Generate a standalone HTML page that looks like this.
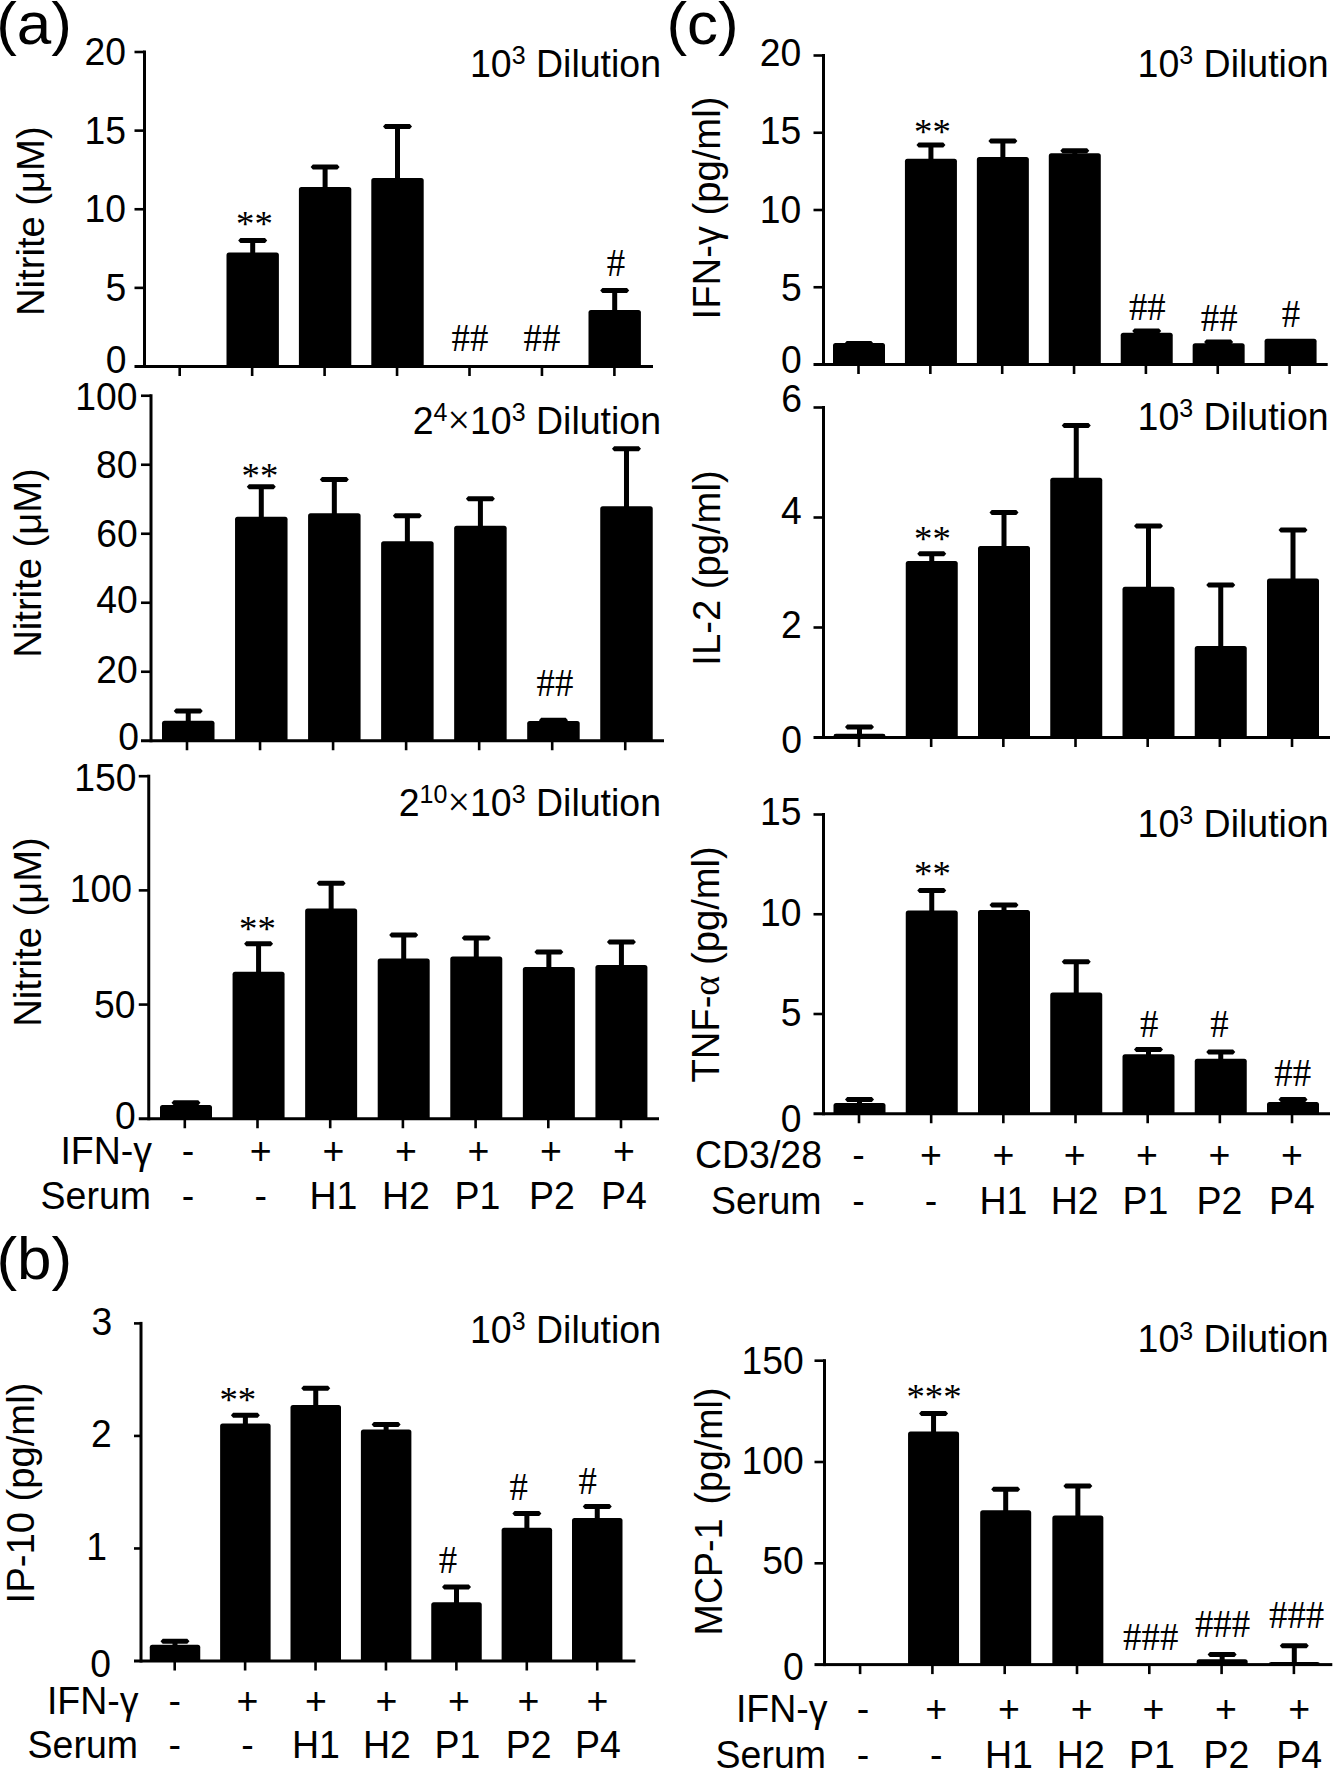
<!DOCTYPE html>
<html><head><meta charset="utf-8"><title>Figure</title>
<style>
html,body{margin:0;padding:0;background:#fff;}
body{width:1337px;height:1769px;overflow:hidden;}
svg{display:block;}
.s{font-family:"Liberation Sans", sans-serif;fill:#000;}
.r{font-family:"Liberation Serif", serif;fill:#000;}
rect,polygon{fill:#000;}
</style></head><body>
<svg width="1337" height="1769" viewBox="0 0 1337 1769">
<rect x="250.2" y="240.5" width="5" height="13"/>
<polygon points="238.2,240.5 240.4,238 265,238 267.2,240.5 265,243 240.4,243"/>
<rect x="226.5" y="252.5" width="52.4" height="115" rx="2.5"/>
<rect x="322.6" y="167" width="5" height="21"/>
<polygon points="310.6,167 312.8,164.5 337.4,164.5 339.6,167 337.4,169.5 312.8,169.5"/>
<rect x="298.9" y="187" width="52.4" height="180.5" rx="2.5"/>
<rect x="395" y="126.6" width="5" height="52.4"/>
<polygon points="383,126.6 385.2,124.1 409.8,124.1 412,126.6 409.8,129.1 385.2,129.1"/>
<rect x="371.3" y="178" width="52.4" height="189.5" rx="2.5"/>
<rect x="612.2" y="290.5" width="5" height="20.5"/>
<polygon points="600.2,290.5 602.4,288 627,288 629.2,290.5 627,293 602.4,293"/>
<rect x="588.5" y="310" width="52.4" height="57.5" rx="2.5"/>
<rect x="143" y="50.5" width="3" height="317.5"/>
<rect x="134.5" y="365" width="518.5" height="3"/>
<rect x="134.5" y="286.57" width="10" height="2.6"/>
<rect x="134.5" y="207.95" width="10" height="2.6"/>
<rect x="134.5" y="129.32" width="10" height="2.6"/>
<rect x="134.5" y="50.7" width="10" height="2.6"/>
<text class="s" transform="translate(126.1 65.1) scale(1 1.04)" text-anchor="end" font-size="37.3">20</text>
<text class="s" transform="translate(126.1 144.2) scale(1 1.04)" text-anchor="end" font-size="37.3">15</text>
<text class="s" transform="translate(126.1 222) scale(1 1.04)" text-anchor="end" font-size="37.3">10</text>
<text class="s" transform="translate(126.3 301.1) scale(1 1.04)" text-anchor="end" font-size="37.3">5</text>
<text class="s" transform="translate(126.5 373) scale(1 1.04)" text-anchor="end" font-size="37.3">0</text>
<rect x="178.4" y="366.5" width="2.6" height="9.5"/>
<rect x="250.85" y="366.5" width="2.6" height="9.5"/>
<rect x="323.3" y="366.5" width="2.6" height="9.5"/>
<rect x="395.75" y="366.5" width="2.6" height="9.5"/>
<rect x="468.2" y="366.5" width="2.6" height="9.5"/>
<rect x="540.65" y="366.5" width="2.6" height="9.5"/>
<rect x="613.1" y="366.5" width="2.6" height="9.5"/>
<text class="s" font-size="38.2" text-anchor="middle" transform="translate(43.6 221.2) rotate(-90) scale(1 1.02)">Nitrite (μM)</text>
<text class="s" transform="translate(661 77) scale(1 1.03)" text-anchor="end" font-size="37.5">10<tspan font-size="25" dy="-12.4">3</tspan><tspan dy="12.4"> Dilution</tspan></text>
<text class="r" transform="translate(254.5 236) scale(1 1)" text-anchor="middle" font-size="36.8">**</text>
<text class="r" transform="translate(470 351) scale(1 1.08)" text-anchor="middle" font-size="36.8">##</text>
<text class="r" transform="translate(542 351) scale(1 1.08)" text-anchor="middle" font-size="36.8">##</text>
<text class="r" transform="translate(616 276) scale(1 1.08)" text-anchor="middle" font-size="36.8">#</text>
<rect x="185.75" y="711" width="5" height="10.8"/>
<polygon points="173.75,711 175.95,708.5 200.55,708.5 202.75,711 200.55,713.5 175.95,713.5"/>
<rect x="162" y="720.8" width="52.5" height="20.95" rx="2.5"/>
<rect x="258.79" y="486.75" width="5" height="31.05"/>
<polygon points="246.79,486.75 248.99,484.25 273.59,484.25 275.79,486.75 273.59,489.25 248.99,489.25"/>
<rect x="235.04" y="516.8" width="52.5" height="224.95" rx="2.5"/>
<rect x="331.83" y="479.5" width="5" height="34.8"/>
<polygon points="319.83,479.5 322.03,477 346.63,477 348.83,479.5 346.63,482 322.03,482"/>
<rect x="308.08" y="513.3" width="52.5" height="228.45" rx="2.5"/>
<rect x="404.87" y="515.75" width="5" height="26.55"/>
<polygon points="392.87,515.75 395.07,513.25 419.67,513.25 421.87,515.75 419.67,518.25 395.07,518.25"/>
<rect x="381.12" y="541.3" width="52.5" height="200.45" rx="2.5"/>
<rect x="477.91" y="498.75" width="5" height="28.05"/>
<polygon points="465.91,498.75 468.11,496.25 492.71,496.25 494.91,498.75 492.71,501.25 468.11,501.25"/>
<rect x="454.16" y="525.8" width="52.5" height="215.95" rx="2.5"/>
<rect x="550.95" y="720.2" width="5" height="1.8"/>
<polygon points="538.95,720.2 541.15,717.7 565.75,717.7 567.95,720.2 565.75,722.7 541.15,722.7"/>
<rect x="527.2" y="721" width="52.5" height="20.75" rx="2.5"/>
<rect x="623.99" y="448.75" width="5" height="58.55"/>
<polygon points="611.99,448.75 614.19,446.25 638.79,446.25 640.99,448.75 638.79,451.25 614.19,451.25"/>
<rect x="600.24" y="506.3" width="52.5" height="235.45" rx="2.5"/>
<rect x="149.5" y="394.25" width="3" height="348"/>
<rect x="141" y="739.25" width="523" height="3"/>
<rect x="141" y="670.45" width="10" height="2.6"/>
<rect x="141" y="601.45" width="10" height="2.6"/>
<rect x="141" y="532.45" width="10" height="2.6"/>
<rect x="141" y="463.45" width="10" height="2.6"/>
<rect x="141" y="394.45" width="10" height="2.6"/>
<text class="s" transform="translate(137.5 409.6) scale(1 1.04)" text-anchor="end" font-size="37.3">100</text>
<text class="s" transform="translate(137.5 477.9) scale(1 1.04)" text-anchor="end" font-size="37.3">80</text>
<text class="s" transform="translate(137.8 547.4) scale(1 1.04)" text-anchor="end" font-size="37.3">60</text>
<text class="s" transform="translate(137.8 612.6) scale(1 1.04)" text-anchor="end" font-size="37.3">40</text>
<text class="s" transform="translate(137.8 682.6) scale(1 1.04)" text-anchor="end" font-size="37.3">20</text>
<text class="s" transform="translate(139 750.4) scale(1 1.04)" text-anchor="end" font-size="37.3">0</text>
<rect x="185.7" y="740.75" width="2.6" height="9.5"/>
<rect x="258.74" y="740.75" width="2.6" height="9.5"/>
<rect x="331.78" y="740.75" width="2.6" height="9.5"/>
<rect x="404.82" y="740.75" width="2.6" height="9.5"/>
<rect x="477.86" y="740.75" width="2.6" height="9.5"/>
<rect x="550.9" y="740.75" width="2.6" height="9.5"/>
<rect x="623.94" y="740.75" width="2.6" height="9.5"/>
<text class="s" font-size="38.2" text-anchor="middle" transform="translate(40.7 563) rotate(-90) scale(1 1.02)">Nitrite (μM)</text>
<text class="s" transform="translate(661 433.75) scale(1 1.03)" text-anchor="end" font-size="37.5">2<tspan font-size="25" dy="-12.4">4</tspan><tspan dy="12.4" font-family='"Liberation Serif", serif' font-size="40">×</tspan>10<tspan font-size="25" dy="-12.4">3</tspan><tspan dy="12.4"> Dilution</tspan></text>
<text class="r" transform="translate(260 487.5) scale(1 1)" text-anchor="middle" font-size="36.8">**</text>
<text class="r" transform="translate(555 696) scale(1 1.08)" text-anchor="middle" font-size="36.8">##</text>
<rect x="183.5" y="1102.8" width="5" height="3.2"/>
<polygon points="171.5,1102.8 173.7,1100.3 198.3,1100.3 200.5,1102.8 198.3,1105.3 173.7,1105.3"/>
<rect x="160" y="1105" width="52" height="14.75" rx="2.5"/>
<rect x="256.07" y="943.75" width="5" height="28.95"/>
<polygon points="244.07,943.75 246.27,941.25 270.87,941.25 273.07,943.75 270.87,946.25 246.27,946.25"/>
<rect x="232.57" y="971.7" width="52" height="148.05" rx="2.5"/>
<rect x="328.64" y="883.2" width="5" height="26.4"/>
<polygon points="316.64,883.2 318.84,880.7 343.44,880.7 345.64,883.2 343.44,885.7 318.84,885.7"/>
<rect x="305.14" y="908.6" width="52" height="211.15" rx="2.5"/>
<rect x="401.21" y="935" width="5" height="24.5"/>
<polygon points="389.21,935 391.41,932.5 416.01,932.5 418.21,935 416.01,937.5 391.41,937.5"/>
<rect x="377.71" y="958.5" width="52" height="161.25" rx="2.5"/>
<rect x="473.78" y="938" width="5" height="19.6"/>
<polygon points="461.78,938 463.98,935.5 488.58,935.5 490.78,938 488.58,940.5 463.98,940.5"/>
<rect x="450.28" y="956.6" width="52" height="163.15" rx="2.5"/>
<rect x="546.35" y="952" width="5" height="16"/>
<polygon points="534.35,952 536.55,949.5 561.15,949.5 563.35,952 561.15,954.5 536.55,954.5"/>
<rect x="522.85" y="967" width="52" height="152.75" rx="2.5"/>
<rect x="618.92" y="942" width="5" height="24"/>
<polygon points="606.92,942 609.12,939.5 633.72,939.5 635.92,942 633.72,944.5 609.12,944.5"/>
<rect x="595.42" y="965" width="52" height="154.75" rx="2.5"/>
<rect x="147.25" y="774.7" width="3" height="345.55"/>
<rect x="138.75" y="1117.25" width="520.25" height="3"/>
<rect x="138.75" y="1003.27" width="10" height="2.6"/>
<rect x="138.75" y="889.08" width="10" height="2.6"/>
<rect x="138.75" y="774.9" width="10" height="2.6"/>
<text class="s" transform="translate(136.6 790.9) scale(1 1.04)" text-anchor="end" font-size="37.3">150</text>
<text class="s" transform="translate(132 902) scale(1 1.04)" text-anchor="end" font-size="37.3">100</text>
<text class="s" transform="translate(135.5 1018) scale(1 1.04)" text-anchor="end" font-size="37.3">50</text>
<text class="s" transform="translate(135.7 1129.3) scale(1 1.04)" text-anchor="end" font-size="37.3">0</text>
<rect x="183.5" y="1118.75" width="2.6" height="9.5"/>
<rect x="256.2" y="1118.75" width="2.6" height="9.5"/>
<rect x="328.9" y="1118.75" width="2.6" height="9.5"/>
<rect x="401.6" y="1118.75" width="2.6" height="9.5"/>
<rect x="474.3" y="1118.75" width="2.6" height="9.5"/>
<rect x="547" y="1118.75" width="2.6" height="9.5"/>
<rect x="619.7" y="1118.75" width="2.6" height="9.5"/>
<text class="s" font-size="38.2" text-anchor="middle" transform="translate(40.7 932) rotate(-90) scale(1 1.02)">Nitrite (μM)</text>
<text class="s" transform="translate(661 816) scale(1 1.03)" text-anchor="end" font-size="37.5">2<tspan font-size="25" dy="-12.4">10</tspan><tspan dy="12.4" font-family='"Liberation Serif", serif' font-size="40">×</tspan>10<tspan font-size="25" dy="-12.4">3</tspan><tspan dy="12.4"> Dilution</tspan></text>
<text class="r" transform="translate(257.5 941) scale(1 1)" text-anchor="middle" font-size="36.8">**</text>
<text class="s" transform="translate(152 1163.75) scale(1 1.03)" text-anchor="end" font-size="37.5">IFN-γ</text>
<text class="s" transform="translate(188 1163.75) scale(1 1.03)" text-anchor="middle" font-size="37.5">-</text>
<text class="s" transform="translate(260.75 1163.75) scale(1 1.03)" text-anchor="middle" font-size="37.5">+</text>
<text class="s" transform="translate(333.5 1163.75) scale(1 1.03)" text-anchor="middle" font-size="37.5">+</text>
<text class="s" transform="translate(406 1163.75) scale(1 1.03)" text-anchor="middle" font-size="37.5">+</text>
<text class="s" transform="translate(478.5 1163.75) scale(1 1.03)" text-anchor="middle" font-size="37.5">+</text>
<text class="s" transform="translate(551 1163.75) scale(1 1.03)" text-anchor="middle" font-size="37.5">+</text>
<text class="s" transform="translate(624 1163.75) scale(1 1.03)" text-anchor="middle" font-size="37.5">+</text>
<text class="s" transform="translate(151 1208.75) scale(1 1.03)" text-anchor="end" font-size="37.5">Serum</text>
<text class="s" transform="translate(188 1208.75) scale(1 1.03)" text-anchor="middle" font-size="37.5">-</text>
<text class="s" transform="translate(260.75 1208.75) scale(1 1.03)" text-anchor="middle" font-size="37.5">-</text>
<text class="s" transform="translate(333.5 1208.75) scale(1 1.03)" text-anchor="middle" font-size="37.5">H1</text>
<text class="s" transform="translate(406 1208.75) scale(1 1.03)" text-anchor="middle" font-size="37.5">H2</text>
<text class="s" transform="translate(477.5 1208.75) scale(1 1.03)" text-anchor="middle" font-size="37.5">P1</text>
<text class="s" transform="translate(552 1208.75) scale(1 1.03)" text-anchor="middle" font-size="37.5">P2</text>
<text class="s" transform="translate(624 1208.75) scale(1 1.03)" text-anchor="middle" font-size="37.5">P4</text>
<rect x="172.5" y="1641.2" width="5" height="4.5"/>
<polygon points="160.5,1641.2 162.7,1638.7 187.3,1638.7 189.5,1641.2 187.3,1643.7 162.7,1643.7"/>
<rect x="149.75" y="1644.7" width="50.5" height="17.3" rx="2.5"/>
<rect x="242.88" y="1415.2" width="5" height="9.2"/>
<polygon points="230.88,1415.2 233.07,1412.7 257.68,1412.7 259.88,1415.2 257.68,1417.7 233.07,1417.7"/>
<rect x="220.12" y="1423.4" width="50.5" height="238.6" rx="2.5"/>
<rect x="313.25" y="1388.2" width="5" height="17.7"/>
<polygon points="301.25,1388.2 303.45,1385.7 328.05,1385.7 330.25,1388.2 328.05,1390.7 303.45,1390.7"/>
<rect x="290.5" y="1404.9" width="50.5" height="257.1" rx="2.5"/>
<rect x="383.62" y="1424.6" width="5" height="6"/>
<polygon points="371.62,1424.6 373.82,1422.1 398.43,1422.1 400.62,1424.6 398.43,1427.1 373.82,1427.1"/>
<rect x="360.88" y="1429.6" width="50.5" height="232.4" rx="2.5"/>
<rect x="454" y="1587" width="5" height="16.3"/>
<polygon points="442,1587 444.2,1584.5 468.8,1584.5 471,1587 468.8,1589.5 444.2,1589.5"/>
<rect x="431.25" y="1602.3" width="50.5" height="59.7" rx="2.5"/>
<rect x="524.38" y="1513.4" width="5" height="15.4"/>
<polygon points="512.38,1513.4 514.58,1510.9 539.17,1510.9 541.38,1513.4 539.17,1515.9 514.58,1515.9"/>
<rect x="501.62" y="1527.8" width="50.5" height="134.2" rx="2.5"/>
<rect x="594.75" y="1506.5" width="5" height="12.5"/>
<polygon points="582.75,1506.5 584.95,1504 609.55,1504 611.75,1506.5 609.55,1509 584.95,1509"/>
<rect x="572" y="1518" width="50.5" height="144" rx="2.5"/>
<rect x="139.5" y="1321.9" width="3" height="340.6"/>
<rect x="134" y="1659.5" width="501.4" height="3"/>
<rect x="134" y="1547.17" width="7" height="2.6"/>
<rect x="134" y="1434.63" width="7" height="2.6"/>
<rect x="134" y="1322.1" width="7" height="2.6"/>
<text class="s" transform="translate(112.2 1334.8) scale(1 1.04)" text-anchor="end" font-size="37.3">3</text>
<text class="s" transform="translate(111.8 1446.7) scale(1 1.04)" text-anchor="end" font-size="37.3">2</text>
<text class="s" transform="translate(107 1560.2) scale(1 1.04)" text-anchor="end" font-size="37.3">1</text>
<text class="s" transform="translate(111 1676.5) scale(1 1.04)" text-anchor="end" font-size="37.3">0</text>
<rect x="173.4" y="1661" width="2.6" height="9.5"/>
<rect x="243.82" y="1661" width="2.6" height="9.5"/>
<rect x="314.24" y="1661" width="2.6" height="9.5"/>
<rect x="384.66" y="1661" width="2.6" height="9.5"/>
<rect x="455.08" y="1661" width="2.6" height="9.5"/>
<rect x="525.5" y="1661" width="2.6" height="9.5"/>
<rect x="595.92" y="1661" width="2.6" height="9.5"/>
<text class="s" font-size="38.2" text-anchor="middle" transform="translate(33.6 1493) rotate(-90) scale(1 1.02)">IP-10 (pg/ml)</text>
<text class="s" transform="translate(661 1343) scale(1 1.03)" text-anchor="end" font-size="37.5">10<tspan font-size="25" dy="-12.4">3</tspan><tspan dy="12.4"> Dilution</tspan></text>
<text class="r" transform="translate(237.8 1411.6) scale(1 1)" text-anchor="middle" font-size="36.8">**</text>
<text class="r" transform="translate(448 1572.5) scale(1 1.08)" text-anchor="middle" font-size="36.8">#</text>
<text class="r" transform="translate(518.7 1500) scale(1 1.08)" text-anchor="middle" font-size="36.8">#</text>
<text class="r" transform="translate(587.8 1494) scale(1 1.08)" text-anchor="middle" font-size="36.8">#</text>
<text class="s" transform="translate(138.5 1714) scale(1 1.03)" text-anchor="end" font-size="37.5">IFN-γ</text>
<text class="s" transform="translate(174.7 1714) scale(1 1.03)" text-anchor="middle" font-size="37.5">-</text>
<text class="s" transform="translate(247.4 1714) scale(1 1.03)" text-anchor="middle" font-size="37.5">+</text>
<text class="s" transform="translate(316 1714) scale(1 1.03)" text-anchor="middle" font-size="37.5">+</text>
<text class="s" transform="translate(386.5 1714) scale(1 1.03)" text-anchor="middle" font-size="37.5">+</text>
<text class="s" transform="translate(459 1714) scale(1 1.03)" text-anchor="middle" font-size="37.5">+</text>
<text class="s" transform="translate(528.4 1714) scale(1 1.03)" text-anchor="middle" font-size="37.5">+</text>
<text class="s" transform="translate(597.5 1714) scale(1 1.03)" text-anchor="middle" font-size="37.5">+</text>
<text class="s" transform="translate(138 1757.7) scale(1 1.03)" text-anchor="end" font-size="37.5">Serum</text>
<text class="s" transform="translate(174.7 1757.7) scale(1 1.03)" text-anchor="middle" font-size="37.5">-</text>
<text class="s" transform="translate(247.4 1757.7) scale(1 1.03)" text-anchor="middle" font-size="37.5">-</text>
<text class="s" transform="translate(316 1757.7) scale(1 1.03)" text-anchor="middle" font-size="37.5">H1</text>
<text class="s" transform="translate(387 1757.7) scale(1 1.03)" text-anchor="middle" font-size="37.5">H2</text>
<text class="s" transform="translate(457.4 1757.7) scale(1 1.03)" text-anchor="middle" font-size="37.5">P1</text>
<text class="s" transform="translate(528.6 1757.7) scale(1 1.03)" text-anchor="middle" font-size="37.5">P2</text>
<text class="s" transform="translate(598 1757.7) scale(1 1.03)" text-anchor="middle" font-size="37.5">P4</text>
<rect x="856.5" y="343.5" width="5" height="0.5"/>
<polygon points="844.5,343.5 846.7,341 871.3,341 873.5,343.5 871.3,346 846.7,346"/>
<rect x="833" y="343" width="52" height="22.5" rx="2.5"/>
<rect x="928.43" y="145" width="5" height="14.75"/>
<polygon points="916.43,145 918.63,142.5 943.23,142.5 945.43,145 943.23,147.5 918.63,147.5"/>
<rect x="904.93" y="158.75" width="52" height="206.75" rx="2.5"/>
<rect x="1000.36" y="141" width="5" height="17"/>
<polygon points="988.36,141 990.56,138.5 1015.16,138.5 1017.36,141 1015.16,143.5 990.56,143.5"/>
<rect x="976.86" y="157" width="52" height="208.5" rx="2.5"/>
<rect x="1072.29" y="150.7" width="5" height="3.5"/>
<polygon points="1060.29,150.7 1062.49,148.2 1087.09,148.2 1089.29,150.7 1087.09,153.2 1062.49,153.2"/>
<rect x="1048.79" y="153.2" width="52" height="212.3" rx="2.5"/>
<rect x="1144.22" y="331" width="5" height="2.7"/>
<polygon points="1132.22,331 1134.42,328.5 1159.02,328.5 1161.22,331 1159.02,333.5 1134.42,333.5"/>
<rect x="1120.72" y="332.7" width="52" height="32.8" rx="2.5"/>
<rect x="1216.15" y="342" width="5" height="2.3"/>
<polygon points="1204.15,342 1206.35,339.5 1230.95,339.5 1233.15,342 1230.95,344.5 1206.35,344.5"/>
<rect x="1192.65" y="343.3" width="52" height="22.2" rx="2.5"/>
<rect x="1264.58" y="338.8" width="52" height="26.7" rx="2.5"/>
<rect x="822" y="54" width="3" height="312"/>
<rect x="813.5" y="363" width="514.2" height="3"/>
<rect x="813.5" y="285.95" width="10" height="2.6"/>
<rect x="813.5" y="208.7" width="10" height="2.6"/>
<rect x="813.5" y="131.45" width="10" height="2.6"/>
<rect x="813.5" y="54.2" width="10" height="2.6"/>
<text class="s" transform="translate(801.3 65.5) scale(1 1.04)" text-anchor="end" font-size="37.3">20</text>
<text class="s" transform="translate(801.3 144.2) scale(1 1.04)" text-anchor="end" font-size="37.3">15</text>
<text class="s" transform="translate(801.3 222.7) scale(1 1.04)" text-anchor="end" font-size="37.3">10</text>
<text class="s" transform="translate(801.7 301.1) scale(1 1.04)" text-anchor="end" font-size="37.3">5</text>
<text class="s" transform="translate(801.7 373.3) scale(1 1.04)" text-anchor="end" font-size="37.3">0</text>
<rect x="857.2" y="364.5" width="2.6" height="9.5"/>
<rect x="929.05" y="364.5" width="2.6" height="9.5"/>
<rect x="1000.9" y="364.5" width="2.6" height="9.5"/>
<rect x="1072.75" y="364.5" width="2.6" height="9.5"/>
<rect x="1144.6" y="364.5" width="2.6" height="9.5"/>
<rect x="1216.45" y="364.5" width="2.6" height="9.5"/>
<rect x="1288.3" y="364.5" width="2.6" height="9.5"/>
<text class="s" font-size="38.2" text-anchor="middle" transform="translate(719.75 208) rotate(-90) scale(1 1.02)">IFN-γ (pg/ml)</text>
<text class="s" transform="translate(1328.6 77.2) scale(1 1.03)" text-anchor="end" font-size="37.5">10<tspan font-size="25" dy="-12.4">3</tspan><tspan dy="12.4"> Dilution</tspan></text>
<text class="r" transform="translate(932.5 143.75) scale(1 1)" text-anchor="middle" font-size="36.8">**</text>
<text class="r" transform="translate(1147.3 320.2) scale(1 1.08)" text-anchor="middle" font-size="36.8">##</text>
<text class="r" transform="translate(1219.2 331.2) scale(1 1.08)" text-anchor="middle" font-size="36.8">##</text>
<text class="r" transform="translate(1290.9 327) scale(1 1.08)" text-anchor="middle" font-size="36.8">#</text>
<rect x="857" y="727" width="5" height="7.75"/>
<polygon points="845,727 847.2,724.5 871.8,724.5 874,727 871.8,729.5 847.2,729.5"/>
<rect x="833.5" y="733.75" width="52" height="4.75" rx="2.5"/>
<rect x="929.25" y="553.75" width="5" height="8.25"/>
<polygon points="917.25,553.75 919.45,551.25 944.05,551.25 946.25,553.75 944.05,556.25 919.45,556.25"/>
<rect x="905.75" y="561" width="52" height="177.5" rx="2.5"/>
<rect x="1001.5" y="512.5" width="5" height="34.5"/>
<polygon points="989.5,512.5 991.7,510 1016.3,510 1018.5,512.5 1016.3,515 991.7,515"/>
<rect x="978" y="546" width="52" height="192.5" rx="2.5"/>
<rect x="1073.75" y="425.6" width="5" height="53.1"/>
<polygon points="1061.75,425.6 1063.95,423.1 1088.55,423.1 1090.75,425.6 1088.55,428.1 1063.95,428.1"/>
<rect x="1050.25" y="477.7" width="52" height="260.8" rx="2.5"/>
<rect x="1146" y="525.9" width="5" height="61.8"/>
<polygon points="1134,525.9 1136.2,523.4 1160.8,523.4 1163,525.9 1160.8,528.4 1136.2,528.4"/>
<rect x="1122.5" y="586.7" width="52" height="151.8" rx="2.5"/>
<rect x="1218.25" y="585" width="5" height="62"/>
<polygon points="1206.25,585 1208.45,582.5 1233.05,582.5 1235.25,585 1233.05,587.5 1208.45,587.5"/>
<rect x="1194.75" y="646" width="52" height="92.5" rx="2.5"/>
<rect x="1290.5" y="529.9" width="5" height="49.6"/>
<polygon points="1278.5,529.9 1280.7,527.4 1305.3,527.4 1307.5,529.9 1305.3,532.4 1280.7,532.4"/>
<rect x="1267" y="578.5" width="52" height="160" rx="2.5"/>
<rect x="822" y="406" width="3" height="333"/>
<rect x="813.5" y="736" width="516.5" height="3"/>
<rect x="813.5" y="626.2" width="10" height="2.6"/>
<rect x="813.5" y="516.2" width="10" height="2.6"/>
<rect x="813.5" y="406.2" width="10" height="2.6"/>
<text class="s" transform="translate(801.9 412.4) scale(1 1.04)" text-anchor="end" font-size="37.3">6</text>
<text class="s" transform="translate(801.7 523.6) scale(1 1.04)" text-anchor="end" font-size="37.3">4</text>
<text class="s" transform="translate(801.8 638.4) scale(1 1.04)" text-anchor="end" font-size="37.3">2</text>
<text class="s" transform="translate(801.9 752.6) scale(1 1.04)" text-anchor="end" font-size="37.3">0</text>
<rect x="857.7" y="737.5" width="2.6" height="9.5"/>
<rect x="929.87" y="737.5" width="2.6" height="9.5"/>
<rect x="1002.04" y="737.5" width="2.6" height="9.5"/>
<rect x="1074.21" y="737.5" width="2.6" height="9.5"/>
<rect x="1146.38" y="737.5" width="2.6" height="9.5"/>
<rect x="1218.55" y="737.5" width="2.6" height="9.5"/>
<rect x="1290.72" y="737.5" width="2.6" height="9.5"/>
<text class="s" font-size="38.2" text-anchor="middle" transform="translate(719.75 568) rotate(-90) scale(1 1.02)">IL-2 (pg/ml)</text>
<text class="s" transform="translate(1328.6 429.6) scale(1 1.03)" text-anchor="end" font-size="37.5">10<tspan font-size="25" dy="-12.4">3</tspan><tspan dy="12.4"> Dilution</tspan></text>
<text class="r" transform="translate(932.5 550.75) scale(1 1)" text-anchor="middle" font-size="36.8">**</text>
<rect x="857" y="1099.5" width="5" height="4.5"/>
<polygon points="845,1099.5 847.2,1097 871.8,1097 874,1099.5 871.8,1102 847.2,1102"/>
<rect x="833.5" y="1103" width="52" height="11.75" rx="2.5"/>
<rect x="929.25" y="890.5" width="5" height="21"/>
<polygon points="917.25,890.5 919.45,888 944.05,888 946.25,890.5 944.05,893 919.45,893"/>
<rect x="905.75" y="910.5" width="52" height="204.25" rx="2.5"/>
<rect x="1001.5" y="905" width="5" height="6"/>
<polygon points="989.5,905 991.7,902.5 1016.3,902.5 1018.5,905 1016.3,907.5 991.7,907.5"/>
<rect x="978" y="910" width="52" height="204.75" rx="2.5"/>
<rect x="1073.75" y="961.7" width="5" height="31.9"/>
<polygon points="1061.75,961.7 1063.95,959.2 1088.55,959.2 1090.75,961.7 1088.55,964.2 1063.95,964.2"/>
<rect x="1050.25" y="992.6" width="52" height="122.15" rx="2.5"/>
<rect x="1146" y="1049.6" width="5" height="5.6"/>
<polygon points="1134,1049.6 1136.2,1047.1 1160.8,1047.1 1163,1049.6 1160.8,1052.1 1136.2,1052.1"/>
<rect x="1122.5" y="1054.2" width="52" height="60.55" rx="2.5"/>
<rect x="1218.25" y="1051.9" width="5" height="7.8"/>
<polygon points="1206.25,1051.9 1208.45,1049.4 1233.05,1049.4 1235.25,1051.9 1233.05,1054.4 1208.45,1054.4"/>
<rect x="1194.75" y="1058.7" width="52" height="56.05" rx="2.5"/>
<rect x="1290.5" y="1099.6" width="5" height="3.4"/>
<polygon points="1278.5,1099.6 1280.7,1097.1 1305.3,1097.1 1307.5,1099.6 1305.3,1102.1 1280.7,1102.1"/>
<rect x="1267" y="1102" width="52" height="12.75" rx="2.5"/>
<rect x="822" y="813" width="3" height="302.25"/>
<rect x="813.5" y="1112.25" width="516.5" height="3"/>
<rect x="813.5" y="1012.7" width="10" height="2.6"/>
<rect x="813.5" y="912.95" width="10" height="2.6"/>
<rect x="813.5" y="813.2" width="10" height="2.6"/>
<text class="s" transform="translate(801.4 825.4) scale(1 1.04)" text-anchor="end" font-size="37.3">15</text>
<text class="s" transform="translate(801.4 925.7) scale(1 1.04)" text-anchor="end" font-size="37.3">10</text>
<text class="s" transform="translate(801.4 1025.9) scale(1 1.04)" text-anchor="end" font-size="37.3">5</text>
<text class="s" transform="translate(801.4 1132) scale(1 1.04)" text-anchor="end" font-size="37.3">0</text>
<rect x="857.7" y="1113.75" width="2.6" height="9.5"/>
<rect x="929.87" y="1113.75" width="2.6" height="9.5"/>
<rect x="1002.04" y="1113.75" width="2.6" height="9.5"/>
<rect x="1074.21" y="1113.75" width="2.6" height="9.5"/>
<rect x="1146.38" y="1113.75" width="2.6" height="9.5"/>
<rect x="1218.55" y="1113.75" width="2.6" height="9.5"/>
<rect x="1290.72" y="1113.75" width="2.6" height="9.5"/>
<text class="s" font-size="38.2" text-anchor="middle" transform="translate(719.1 964.4) rotate(-90) scale(1 1.02)">TNF-<tspan font-family='"Liberation Serif", serif'>α</tspan> (pg/ml)</text>
<text class="s" transform="translate(1328.6 837.2) scale(1 1.03)" text-anchor="end" font-size="37.5">10<tspan font-size="25" dy="-12.4">3</tspan><tspan dy="12.4"> Dilution</tspan></text>
<text class="r" transform="translate(932.5 886) scale(1 1)" text-anchor="middle" font-size="36.8">**</text>
<text class="r" transform="translate(1149.3 1036.9) scale(1 1.08)" text-anchor="middle" font-size="36.8">#</text>
<text class="r" transform="translate(1219.5 1036.9) scale(1 1.08)" text-anchor="middle" font-size="36.8">#</text>
<text class="r" transform="translate(1292.7 1086.2) scale(1 1.08)" text-anchor="middle" font-size="36.8">##</text>
<text class="s" transform="translate(822 1168) scale(1 1.03)" text-anchor="end" font-size="37.5">CD3/28</text>
<text class="s" transform="translate(858.5 1168) scale(1 1.03)" text-anchor="middle" font-size="37.5">-</text>
<text class="s" transform="translate(931 1168) scale(1 1.03)" text-anchor="middle" font-size="37.5">+</text>
<text class="s" transform="translate(1003.5 1168) scale(1 1.03)" text-anchor="middle" font-size="37.5">+</text>
<text class="s" transform="translate(1074.7 1168) scale(1 1.03)" text-anchor="middle" font-size="37.5">+</text>
<text class="s" transform="translate(1147 1168) scale(1 1.03)" text-anchor="middle" font-size="37.5">+</text>
<text class="s" transform="translate(1219.5 1168) scale(1 1.03)" text-anchor="middle" font-size="37.5">+</text>
<text class="s" transform="translate(1292 1168) scale(1 1.03)" text-anchor="middle" font-size="37.5">+</text>
<text class="s" transform="translate(821.5 1213.75) scale(1 1.03)" text-anchor="end" font-size="37.5">Serum</text>
<text class="s" transform="translate(858.5 1213.75) scale(1 1.03)" text-anchor="middle" font-size="37.5">-</text>
<text class="s" transform="translate(931 1213.75) scale(1 1.03)" text-anchor="middle" font-size="37.5">-</text>
<text class="s" transform="translate(1003.5 1213.75) scale(1 1.03)" text-anchor="middle" font-size="37.5">H1</text>
<text class="s" transform="translate(1074.7 1213.75) scale(1 1.03)" text-anchor="middle" font-size="37.5">H2</text>
<text class="s" transform="translate(1145.3 1213.75) scale(1 1.03)" text-anchor="middle" font-size="37.5">P1</text>
<text class="s" transform="translate(1219.5 1213.75) scale(1 1.03)" text-anchor="middle" font-size="37.5">P2</text>
<text class="s" transform="translate(1292 1213.75) scale(1 1.03)" text-anchor="middle" font-size="37.5">P4</text>
<rect x="931.05" y="1413.5" width="5" height="19"/>
<polygon points="919.05,1413.5 921.25,1411 945.85,1411 948.05,1413.5 945.85,1416 921.25,1416"/>
<rect x="908.05" y="1431.5" width="51" height="234.1" rx="2.5"/>
<rect x="1003.2" y="1489.3" width="5" height="22"/>
<polygon points="991.2,1489.3 993.4,1486.8 1018,1486.8 1020.2,1489.3 1018,1491.8 993.4,1491.8"/>
<rect x="980.2" y="1510.3" width="51" height="155.3" rx="2.5"/>
<rect x="1075.35" y="1485.9" width="5" height="30.6"/>
<polygon points="1063.35,1485.9 1065.55,1483.4 1090.15,1483.4 1092.35,1485.9 1090.15,1488.4 1065.55,1488.4"/>
<rect x="1052.35" y="1515.5" width="51" height="150.1" rx="2.5"/>
<rect x="1219.65" y="1654.5" width="5" height="5.7"/>
<polygon points="1207.65,1654.5 1209.85,1652 1234.45,1652 1236.65,1654.5 1234.45,1657 1209.85,1657"/>
<rect x="1196.65" y="1659.2" width="51" height="6.4" rx="2.5"/>
<rect x="1291.8" y="1645.7" width="5" height="17.3"/>
<polygon points="1279.8,1645.7 1282,1643.2 1306.6,1643.2 1308.8,1645.7 1306.6,1648.2 1282,1648.2"/>
<rect x="1268.8" y="1662" width="51" height="3.6" rx="2.5"/>
<rect x="823" y="1359.2" width="3" height="306.9"/>
<rect x="814.5" y="1663.1" width="517.8" height="3"/>
<rect x="814.5" y="1562" width="10" height="2.6"/>
<rect x="814.5" y="1460.7" width="10" height="2.6"/>
<rect x="814.5" y="1359.4" width="10" height="2.6"/>
<text class="s" transform="translate(803.8 1374.2) scale(1 1.04)" text-anchor="end" font-size="37.3">150</text>
<text class="s" transform="translate(803.8 1474.2) scale(1 1.04)" text-anchor="end" font-size="37.3">100</text>
<text class="s" transform="translate(803.8 1573.9) scale(1 1.04)" text-anchor="end" font-size="37.3">50</text>
<text class="s" transform="translate(803.7 1679.5) scale(1 1.04)" text-anchor="end" font-size="37.3">0</text>
<rect x="858.8" y="1664.6" width="2.6" height="9.5"/>
<rect x="931.1" y="1664.6" width="2.6" height="9.5"/>
<rect x="1003.4" y="1664.6" width="2.6" height="9.5"/>
<rect x="1075.7" y="1664.6" width="2.6" height="9.5"/>
<rect x="1148" y="1664.6" width="2.6" height="9.5"/>
<rect x="1220.3" y="1664.6" width="2.6" height="9.5"/>
<rect x="1292.6" y="1664.6" width="2.6" height="9.5"/>
<text class="s" font-size="37.6" text-anchor="middle" transform="translate(722 1511.5) rotate(-90) scale(1 1.02)">MCP-1 <tspan dx="3.5">(pg/ml)</tspan></text>
<text class="s" transform="translate(1328.6 1352.4) scale(1 1.03)" text-anchor="end" font-size="37.5">10<tspan font-size="25" dy="-12.4">3</tspan><tspan dy="12.4"> Dilution</tspan></text>
<text class="r" transform="translate(934 1408.9) scale(1 1)" text-anchor="middle" font-size="36.8">***</text>
<text class="r" transform="translate(1150.7 1650.4) scale(1 1.08)" text-anchor="middle" font-size="36.8">###</text>
<text class="r" transform="translate(1222.5 1637.4) scale(1 1.08)" text-anchor="middle" font-size="36.8">###</text>
<text class="r" transform="translate(1296.6 1628.3) scale(1 1.08)" text-anchor="middle" font-size="36.8">###</text>
<text class="s" transform="translate(827.5 1722) scale(1 1.03)" text-anchor="end" font-size="37.5">IFN-γ</text>
<text class="s" transform="translate(863 1722) scale(1 1.03)" text-anchor="middle" font-size="37.5">-</text>
<text class="s" transform="translate(936.2 1722) scale(1 1.03)" text-anchor="middle" font-size="37.5">+</text>
<text class="s" transform="translate(1009 1722) scale(1 1.03)" text-anchor="middle" font-size="37.5">+</text>
<text class="s" transform="translate(1081.6 1722) scale(1 1.03)" text-anchor="middle" font-size="37.5">+</text>
<text class="s" transform="translate(1153.5 1722) scale(1 1.03)" text-anchor="middle" font-size="37.5">+</text>
<text class="s" transform="translate(1225.9 1722) scale(1 1.03)" text-anchor="middle" font-size="37.5">+</text>
<text class="s" transform="translate(1299.1 1722) scale(1 1.03)" text-anchor="middle" font-size="37.5">+</text>
<text class="s" transform="translate(826 1767.6) scale(1 1.03)" text-anchor="end" font-size="37.5">Serum</text>
<text class="s" transform="translate(863 1767.6) scale(1 1.03)" text-anchor="middle" font-size="37.5">-</text>
<text class="s" transform="translate(936.2 1767.6) scale(1 1.03)" text-anchor="middle" font-size="37.5">-</text>
<text class="s" transform="translate(1009 1767.6) scale(1 1.03)" text-anchor="middle" font-size="37.5">H1</text>
<text class="s" transform="translate(1080.8 1767.6) scale(1 1.03)" text-anchor="middle" font-size="37.5">H2</text>
<text class="s" transform="translate(1152 1767.6) scale(1 1.03)" text-anchor="middle" font-size="37.5">P1</text>
<text class="s" transform="translate(1226.4 1767.6) scale(1 1.03)" text-anchor="middle" font-size="37.5">P2</text>
<text class="s" transform="translate(1299.1 1767.6) scale(1 1.03)" text-anchor="middle" font-size="37.5">P4</text>
<text class="s" transform="translate(-3.8 43.7) scale(1 0.97)" text-anchor="start" font-size="62">(a)</text>
<text class="s" transform="translate(-3.6 1278.7) scale(1 0.97)" text-anchor="start" font-size="62">(b)</text>
<text class="s" transform="translate(666.4 43.7) scale(1 0.97)" text-anchor="start" font-size="62">(c)</text>
</svg>
</body></html>
